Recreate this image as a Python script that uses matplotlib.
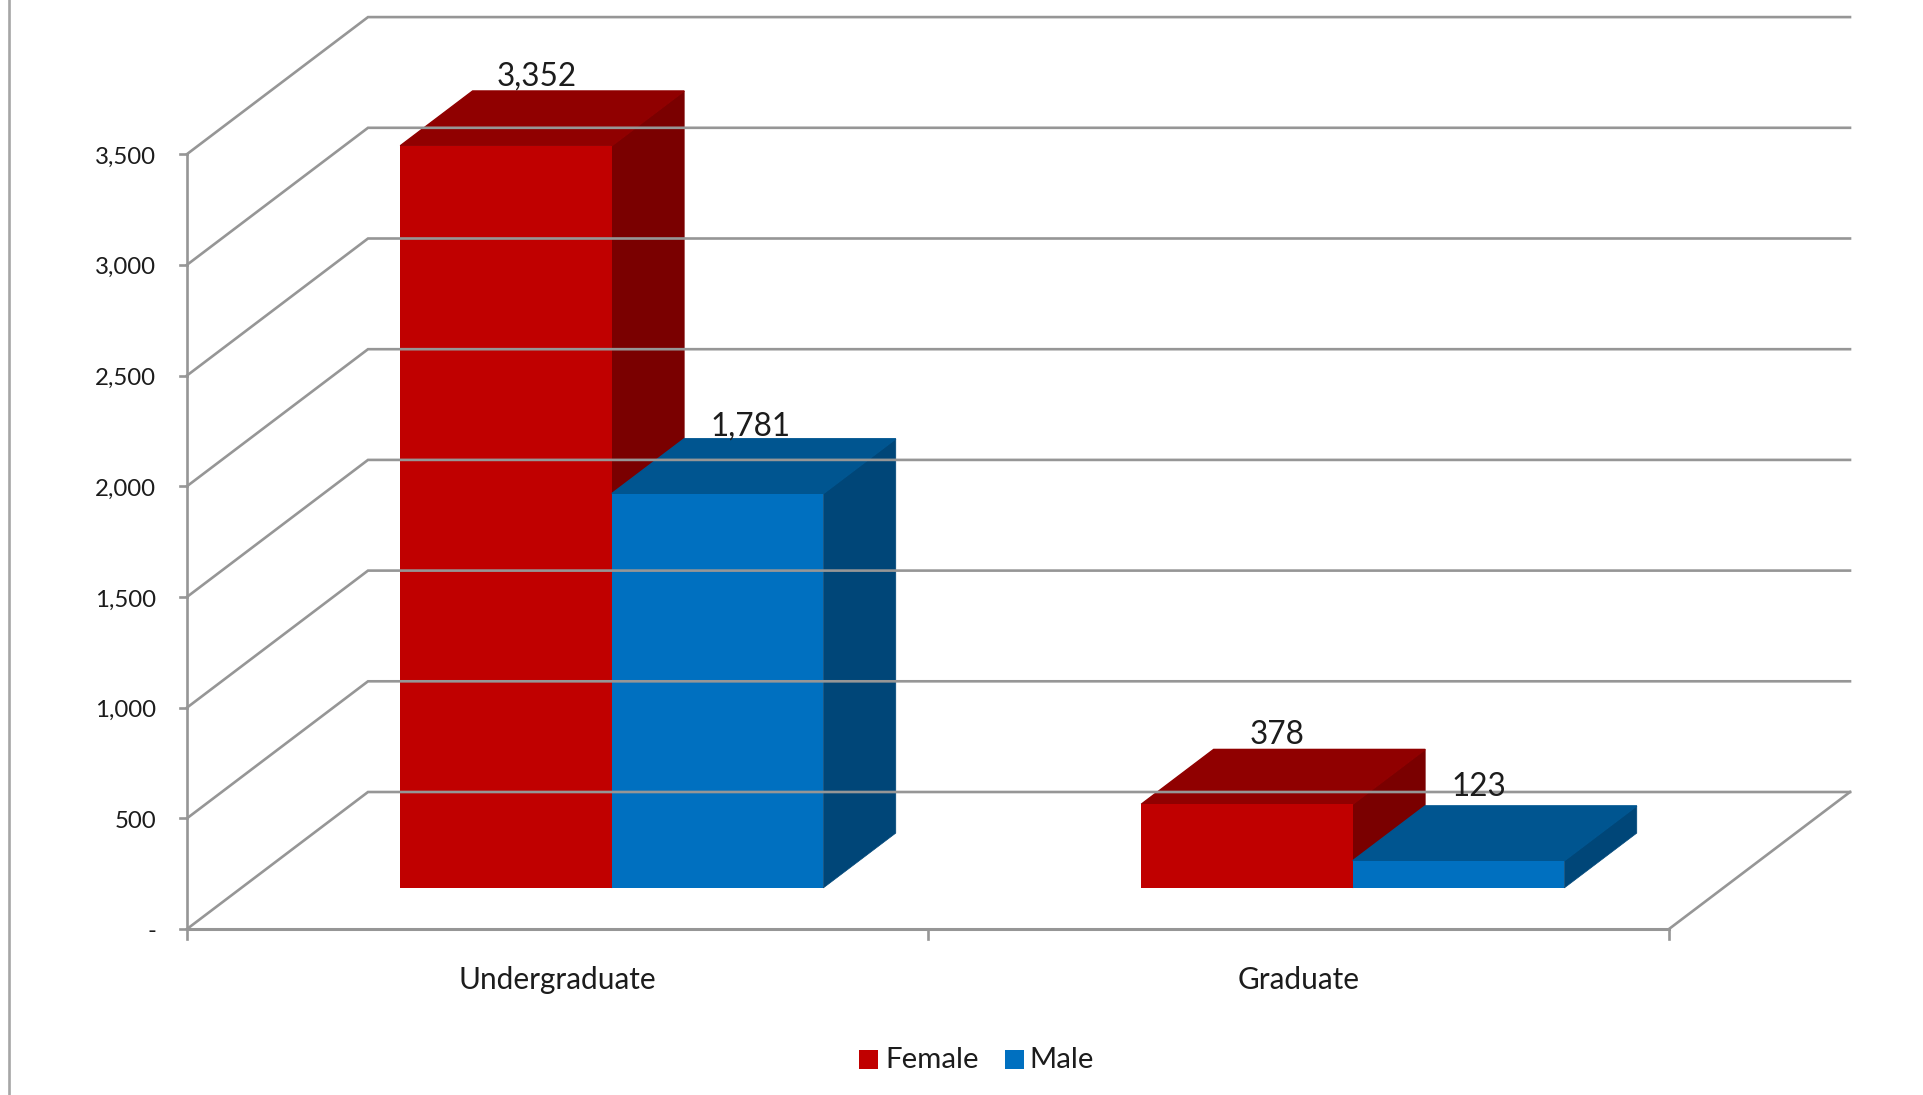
import matplotlib.pyplot as plt
from matplotlib.patches import Polygon

# Datos
categories = ["Undergraduate", "Graduate"]
female = [3352, 378]
male = [1781, 123]
y_ticks = [0, 500, 1000, 1500, 2000, 2500, 3000, 3500]
y_labels = ["-", "500", "1,000", "1,500", "2,000", "2,500", "3,000", "3,500"]
series_names = ["Female", "Male"]

# geometry of the fake 3d box, in pixels
X0, Y0 = 187, 929
UNIT_W = 741
PX_PER_VALUE = 110.7 / 500
DEPTH_X, DEPTH_Y = 181, 137
BAR_W = 0.2855
DEPTH_START, DEPTH_END = 0.3, 0.7

GRID = "#969696"
TEXT = "#1c1c1c"
LW = 1.9
RED = ("#C00000", "#900000", "#7A0000")
BLUE = ("#0070C0", "#005590", "#004678")

plt.rcParams["font.family"] = ["Lato", "DejaVu Sans"]


def proj(cat, value, depth):
    return (X0 + cat * UNIT_W + depth * DEPTH_X, Y0 - value * PX_PER_VALUE - depth * DEPTH_Y)


def draw_bar(ax, left, value, colors):
    right = left + BAR_W
    front = [proj(left, 0, DEPTH_START), proj(right, 0, DEPTH_START),
             proj(right, value, DEPTH_START), proj(left, value, DEPTH_START)]
    top = [proj(left, value, DEPTH_START), proj(right, value, DEPTH_START),
           proj(right, value, DEPTH_END), proj(left, value, DEPTH_END)]
    side = [proj(right, 0, DEPTH_START), proj(right, 0, DEPTH_END),
            proj(right, value, DEPTH_END), proj(right, value, DEPTH_START)]
    # thin edge in the same colour hides the seams between faces
    ax.add_patch(Polygon(side, closed=True, fc=colors[2], ec=colors[2], lw=0.5))
    ax.add_patch(Polygon(top, closed=True, fc=colors[1], ec=colors[1], lw=1.0))
    ax.add_patch(Polygon(front, closed=True, fc=colors[0], ec="none"))


fig = plt.figure(figsize=(19.23, 10.95), dpi=100)
ax = fig.add_axes([0, 0, 1, 1])
ax.set_xlim(0, 1923)
ax.set_ylim(1095, 0)
ax.axis("off")

# line on the left edge of the slide
ax.plot([9, 9], [0, 1095], color="#A6A6A6", lw=LW)

# walls
n_cat = len(categories)
for t, lab in zip(y_ticks, y_labels):
    pts = [proj(0, t, 0), proj(0, t, 1), proj(n_cat, t, 1)]
    ax.plot([p[0] for p in pts], [p[1] for p in pts], color=GRID, lw=LW, solid_joinstyle="miter")
    x, y = proj(0, t, 0)
    ax.plot([x - 7, x], [y, y], color=GRID, lw=LW)
    ax.text(x - 31, y + 3, lab, ha="right", va="center", fontsize=17.3, color=TEXT)

# axes lines and ticks
ax.plot([proj(0, 0, 0)[0], proj(0, y_ticks[-1], 0)[0]], [proj(0, 0, 0)[1], proj(0, y_ticks[-1], 0)[1]], color=GRID, lw=LW)
ax.plot([proj(0, 0, 0)[0], proj(n_cat, 0, 0)[0]], [Y0, Y0], color=GRID, lw=2.2)
p1, p2 = proj(n_cat, 0, 0), proj(n_cat, 0, 1)
ax.plot([p1[0], p2[0]], [p1[1], p2[1]], color=GRID, lw=LW)
for i in range(n_cat + 1):
    x, y = proj(i, 0, 0)
    ax.plot([x, x], [y, y + 10], color=GRID, lw=LW)

# bars and labels
label_nudge = [[(-6, 0), (-3, 2)], [(-6, 0), (-16, -5)]]
for i, cat in enumerate(categories):
    for j, (vals, colors) in enumerate([(female, RED), (male, BLUE)]):
        left = i + 0.5 - BAR_W + j * BAR_W
        draw_bar(ax, left, vals[i], colors)
        bx, by = proj(left + BAR_W / 2, vals[i], DEPTH_END)
        nx, ny = label_nudge[i][j]
        ax.text(bx + nx - 36, by + 1 + ny, f"{vals[i]:,}", ha="center", va="bottom", fontsize=22.7, color=TEXT)
    cx, cy = proj(i + 0.5, 0, 0)
    ax.text(cx, cy + 51, cat, ha="center", va="center", fontsize=21.4, color=TEXT)

# legend
for name, color, mx, tx in zip(series_names, (RED[0], BLUE[0]), (859, 1008 - 3), (885, 1029)):
    ax.add_patch(plt.Rectangle((mx, 1050), 18.5, 18.5, fc=color, ec="none"))
    ax.text(tx, 1060, name, ha="left", va="center", fontsize=21.2, color=TEXT)

fig.savefig("out.png", dpi=100)
